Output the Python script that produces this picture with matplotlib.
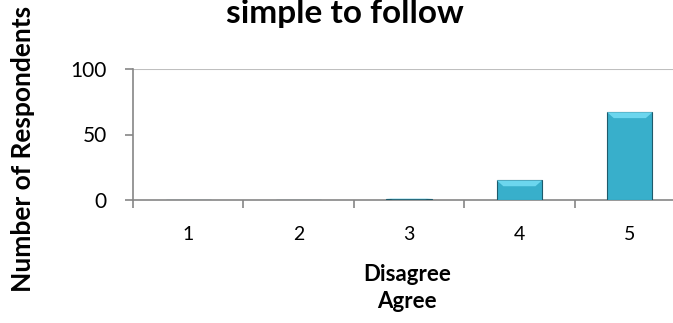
import matplotlib
matplotlib.use("Agg")
import matplotlib.pyplot as plt
from matplotlib.patches import Polygon

categories = ["1", "2", "3", "4", "5"]
values = [0, 0, 1, 15, 67]
y_ticks = [0, 50, 100]
title = "simple to follow"
xlabel = "Disagree\nAgree"
ylabel = "Number of Respondents"

plt.rcParams['font.family'] = ['Lato', 'DejaVu Sans']
fig = plt.figure(figsize=(6.73, 3.23), dpi=100)
ax = fig.add_axes([133/673, (323-200)/323, 552/673, 131/323])

x = list(range(len(categories)))
bw = 0.41
bars = ax.bar(x, values, width=bw, color="#38afcb", edgecolor="#1e5a6b", linewidth=0.8, zorder=3)
# bevel highlight on top of each bar
for xi, v in zip(x, values):
    if v <= 0:
        continue
    bev = min(4.5, v * 0.35)
    inset = 0.06
    top = Polygon([(xi - bw/2, v), (xi + bw/2, v), (xi + bw/2 - inset, v - bev), (xi - bw/2 + inset, v - bev)],
                  closed=True, facecolor="#6cd6ee", edgecolor="none", zorder=4)
    ax.add_patch(top)

ax.set_xlim(-0.5, len(categories) - 0.5)
ax.set_ylim(0, 100)
ax.set_yticks(y_ticks)
ax.set_yticklabels([str(t) for t in y_ticks], fontsize=15)
ax.set_xticks(x)
ax.set_xticklabels(categories, fontsize=14)
ax.tick_params(axis='x', length=0, pad=19)
ax.set_xticks([i + 0.5 for i in range(-1, len(categories))], minor=True)
ax.tick_params(axis='x', which='minor', length=6, color="#868686", width=1.2)
ax.tick_params(axis='y', length=6, color="#868686", width=1.2, pad=13)

ax.axhline(100, color="#bfbfbf", linewidth=1.5, zorder=1)
for s in ["top", "right"]:
    ax.spines[s].set_visible(False)
for s in ["left", "bottom"]:
    ax.spines[s].set_color("#868686")
    ax.spines[s].set_linewidth(1.2)

ax.set_xlabel(xlabel, fontsize=16, fontweight='bold', linespacing=1.35, va='top')
ax.xaxis.set_label_coords((407-133)/552, (200-264)/131)
fig.text(345/673, 1.0 - 23/323, title, fontsize=24, fontweight='bold', ha='center', va='baseline')
fig.text(23/673, 1.0 - 149/323, ylabel, rotation=90, fontsize=19, fontweight='bold', ha='center', va='center')

fig.savefig("out.png", dpi=100)
